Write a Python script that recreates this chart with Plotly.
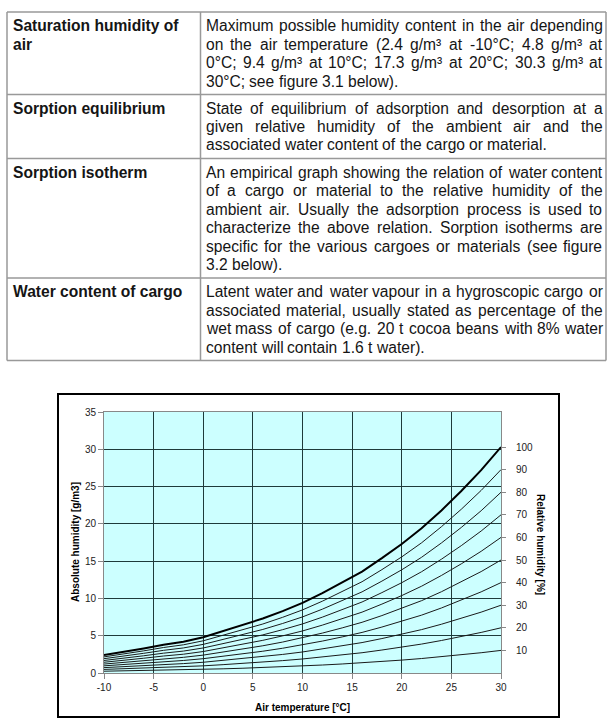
import plotly.graph_objects as go

# ---------------- data ----------------
temperature_c = [-10, -8, -6, -4, -2, 0, 2, 4, 6, 8, 10, 12, 14, 16, 18, 20, 22, 24, 26, 28, 30]
saturation_g_m3 = [2.4, 2.8, 3.3, 3.8, 4.2, 4.8, 5.6, 6.4, 7.3, 8.3, 9.4, 10.7, 12.1,
                   13.6, 15.4, 17.3, 19.4, 21.8, 24.4, 27.2, 30.3]
relative_humidity_levels = [10, 20, 30, 40, 50, 60, 70, 80, 90]
x_tick_values = [-10, -5, 0, 5, 10, 15, 20, 25, 30]
x_tick_labels = ["-10", "-5", "0", "5", "10", "15", "20", "25", "30"]
y_tick_values = [0, 5, 10, 15, 20, 25, 30, 35]
rh_tick_values = [10, 20, 30, 40, 50, 60, 70, 80, 90, 100]

x_title = "Air temperature [°C]"
y_title = "Absolute humidity [g/m3]"
y2_title = "Relative humidity [%]"

table_terms = [
    ["Saturation humidity of", "air"],
    ["Sorption equilibrium"],
    ["Sorption isotherm"],
    ["Water content of cargo"],
]
table_definitions = [
    ["Maximum possible humidity content in the air depending",
     "on the air temperature (2.4 g/m³ at -10°C; 4.8 g/m³ at",
     "0°C; 9.4 g/m³ at 10°C; 17.3 g/m³ at 20°C; 30.3 g/m³ at",
     "30°C; see figure 3.1 below)."],
    ["State of equilibrium of adsorption and desorption at a",
     "given relative humidity of the ambient air and the",
     "associated water content of the cargo or material."],
    ["An empirical graph showing the relation of water content",
     "of a cargo or material to the relative humidity of the",
     "ambient air. Usually the adsorption process is used to",
     "characterize the above relation. Sorption isotherms are",
     "specific for the various cargoes or materials (see figure",
     "3.2 below)."],
    ["Latent water and water vapour in a hygroscopic cargo or",
     "associated material, usually stated as percentage of the",
     "wet mass of cargo (e.g. 20 t cocoa beans with 8% water",
     "content will contain 1.6 t water)."],
]

# ---------------- layout geometry (pixels) ----------------
W, H = 608, 719
PL, PR, PT, PB = 104, 501, 412, 673  # plot area


def px(x):
    return (x - PL) / (PR - PL)


def py(y):
    return (PB - y) / (PB - PT)


FONT = "Liberation Sans, Arial, sans-serif"
FS = 15.6
LINE = 18.5
TEXT_COLOR = "#151515"

# Arial / Liberation Sans regular advance widths (per 1000 em)
ARIAL = {' ': 278, 'a': 556, 'b': 556, 'c': 500, 'd': 556, 'e': 556, 'f': 278, 'g': 556,
         'h': 556, 'i': 222, 'j': 222, 'k': 500, 'l': 222, 'm': 833, 'n': 556, 'o': 556,
         'p': 556, 'q': 556, 'r': 333, 's': 500, 't': 278, 'u': 556, 'v': 500, 'w': 722,
         'x': 500, 'y': 500, 'z': 500, 'A': 667, 'C': 722, 'L': 556, 'M': 833, 'S': 667,
         'U': 722, '(': 333, ')': 333, '.': 278, ',': 278, ';': 278, '°': 400, '%': 889,
         '-': 333, '/': 278, '³': 333}


def text_width(s):
    return sum(ARIAL.get(c, 556) for c in s) * FS / 1000.0


table_top = 12
row_borders = [table_top]
for lines in table_definitions:
    row_borders.append(row_borders[-1] + len(lines) * LINE + 8.5)
TBL_L, TBL_C, TBL_R = 7, 200.5, 606
TXT_L, TXT_R = 205.5, 602.5

shapes = []
annotations = []
grey = "#999999"
# table grid
for yb in row_borders:
    shapes.append(dict(type="line", xref="paper", yref="paper", x0=px(TBL_L), x1=px(TBL_R),
                       y0=py(yb), y1=py(yb), line=dict(color=grey, width=1.5)))
for xb in (TBL_L, TBL_C, TBL_R):
    shapes.append(dict(type="line", xref="paper", yref="paper", x0=px(xb), x1=px(xb),
                       y0=py(row_borders[0]), y1=py(row_borders[-1]),
                       line=dict(color=grey, width=1.5)))

for r, (terms, lines) in enumerate(zip(table_terms, table_definitions)):
    first = row_borders[r] + 13.5
    for i, t in enumerate(terms):
        annotations.append(dict(text="<b>%s</b>" % t, x=px(12.5), y=py(first + i * LINE),
                                xref="paper", yref="paper", xanchor="left", yanchor="middle",
                                showarrow=False, borderpad=0, borderwidth=0,
                                font=dict(family=FONT, size=FS, color=TEXT_COLOR)))
    for i, line in enumerate(lines):
        yc = first + i * LINE
        words = line.split(" ")
        widths = [text_width(w) for w in words]
        last = (i == len(lines) - 1)
        if last or len(words) == 1:
            gap = text_width(" ")
        else:
            gap = (TXT_R - TXT_L - sum(widths)) / (len(words) - 1)
        x = TXT_L
        for w, wd in zip(words, widths):
            annotations.append(dict(text=w, x=px(x), y=py(yc), xref="paper", yref="paper",
                                    xanchor="left", yanchor="middle", showarrow=False,
                                    borderpad=0, borderwidth=0,
                                    font=dict(family=FONT, size=FS, color=TEXT_COLOR)))
            x += wd + gap

# chart outer frame
shapes.append(dict(type="rect", xref="paper", yref="paper", x0=px(58), x1=px(559),
                   y0=py(394), y1=py(717), line=dict(color="black", width=2), layer="above"))

# axis titles
annotations.append(dict(text="<b>%s</b>" % x_title, x=px(302.5), y=py(707), xref="paper",
                        yref="paper", xanchor="center", yanchor="middle", showarrow=False,
                        font=dict(family=FONT, size=10, color="black")))
annotations.append(dict(text="<b>%s</b>" % y_title, x=px(75), y=py(542), xref="paper",
                        yref="paper", xanchor="center", yanchor="middle", showarrow=False,
                        textangle=-90, font=dict(family=FONT, size=10, color="black")))
annotations.append(dict(text="<b>%s</b>" % y2_title, x=px(541), y=py(544), xref="paper",
                        yref="paper", xanchor="center", yanchor="middle", showarrow=False,
                        textangle=90, font=dict(family=FONT, size=10, color="black")))

# ---------------- traces ----------------
fig = go.Figure()
for rh in relative_humidity_levels:
    fig.add_trace(go.Scatter(x=temperature_c, y=[s * rh / 100.0 for s in saturation_g_m3],
                             mode="lines", line=dict(color="#1a1a1a", width=1),
                             showlegend=False, hoverinfo="skip"))
fig.add_trace(go.Scatter(x=temperature_c, y=saturation_g_m3, mode="lines",
                         line=dict(color="#000000", width=2), showlegend=False))
# invisible trace for the right axis
fig.add_trace(go.Scatter(x=[temperature_c[0]], y=[0], yaxis="y2", mode="markers",
                         marker=dict(opacity=0), showlegend=False, hoverinfo="skip"))

tick_font = dict(family=FONT, size=10, color="#222222")
grid_color = "#1e3a3a"
fig.update_layout(
    width=W, height=H,
    margin=dict(l=PL, r=W - PR, t=PT, b=H - PB, pad=0),
    paper_bgcolor="white", plot_bgcolor="#CCFFFF",
    xaxis=dict(range=[x_tick_values[0], x_tick_values[-1]], tickvals=x_tick_values,
               ticktext=x_tick_labels,
               showgrid=True, gridcolor=grid_color, gridwidth=1.3, zeroline=False,
               showline=True, linecolor="#888888", linewidth=1, mirror=True,
               ticks="outside", ticklen=5, tickcolor="#888888", tickfont=tick_font,
               automargin=False, fixedrange=True),
    yaxis=dict(range=[y_tick_values[0], y_tick_values[-1]], tickvals=y_tick_values,
               showgrid=True, gridcolor=grid_color, gridwidth=1.3, zeroline=False,
               showline=True, linecolor="#888888", linewidth=1, mirror=True,
               ticks="outside", ticklen=5, tickcolor="#888888", tickfont=tick_font,
               automargin=False, fixedrange=True),
    yaxis2=dict(overlaying="y", side="right",
                range=[0, y_tick_values[-1] / saturation_g_m3[-1] * 100],
                tickvals=rh_tick_values, showgrid=False, zeroline=False, showline=False,
                ticks="outside", ticklen=4, tickcolor="#888888", tickfont=tick_font,
                ticklabelstandoff=8, automargin=False, fixedrange=True),
    shapes=shapes, annotations=annotations, showlegend=False,
)

fig.write_html("out.html")
